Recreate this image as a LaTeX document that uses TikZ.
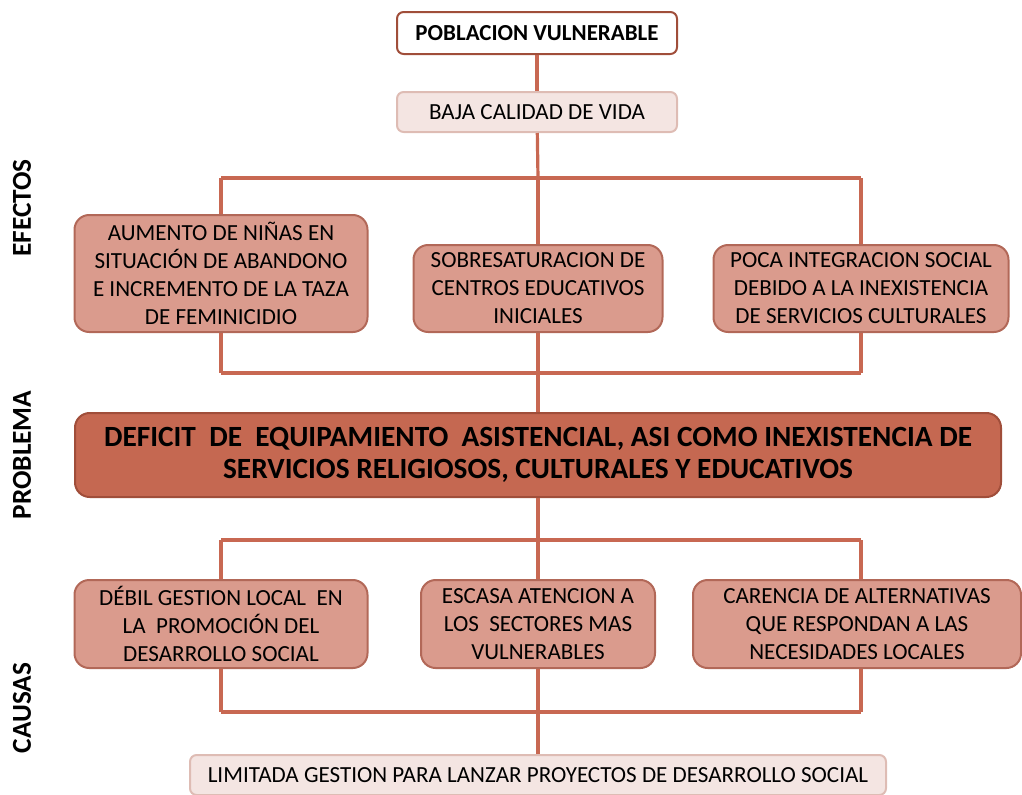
\documentclass[tikz,border=0pt]{standalone}
\usepackage{fontspec}
\setmainfont{Carlito}
\usetikzlibrary{positioning, calc}
\definecolor{colLine}{RGB}{200,104,82}
\definecolor{colDark}{RGB}{160,78,58}
\definecolor{colEffect}{RGB}{218,155,141}
\definecolor{colEffectBorder}{RGB}{178,104,88}
\definecolor{colProblem}{RGB}{197,104,81}
\definecolor{colSoft}{RGB}{244,229,226}
\definecolor{colSoftBorder}{RGB}{222,188,180}
\tikzset{
  box/.style={
    rectangle, rounded corners=11pt,
    line width=1.5pt, inner sep=0pt,
    align=center, text=black
  },
  effBox/.style={box, draw=colEffectBorder, fill=colEffect,
    font=\fontsize{17.3}{21}\selectfont},
  probBox/.style={box, draw=colDark, fill=colProblem,
    font=\bfseries\fontsize{22}{24}\selectfont},
  softBox/.style={box, rounded corners=5pt, draw=colSoftBorder, fill=colSoft,
    font=\fontsize{17.3}{21}\selectfont},
  headBox/.style={box, rounded corners=5pt, draw=colDark, fill=white,
    font=\bfseries\fontsize{17.2}{21}\selectfont},
  link/.style={draw=colLine, line width=2.4pt},
  side/.style={rotate=90, font=\bfseries\fontsize{20.5}{22}\selectfont}
}

\begin{document}
\begin{tikzpicture}[x=0.75pt, y=-0.75pt]
  \useasboundingbox (0,0) rectangle (1022,794);

  % bars
  \coordinate (effTopL) at (221,178);
  \coordinate (effTopM) at (538,178);
  \coordinate (effTopR) at (861,178);
  \coordinate (effBotL) at (221,373);
  \coordinate (effBotM) at (538,373);
  \coordinate (effBotR) at (861,373);
  \coordinate (cauTopL) at (221,540);
  \coordinate (cauTopM) at (538,540);
  \coordinate (cauTopR) at (861,540);
  \coordinate (cauBotL) at (221,712);
  \coordinate (cauBotM) at (538,712);
  \coordinate (cauBotR) at (861,712);

  % side labels
  \node[side] (lblEfectos) at (22,208) {EFECTOS};
  \node[side] (lblProblema) at (22,455) {PROBLEMA};
  \node[side] (lblCausas) at (22,708) {CAUSAS};

  % links first, boxes on top
  \draw[link] (effTopL) -- (effTopR);
  \draw[link] (effBotL) -- (effBotR);
  \draw[link] (cauTopL) -- (cauTopR);
  \draw[link] (cauBotL) -- (cauBotR);

  \node[headBox, minimum width=210pt, minimum height=31.5pt] (poblacion) at (537,33) {POBLACION VULNERABLE};
  \node[softBox, minimum width=210pt, minimum height=30pt] (calidad) at (537,112) {BAJA CALIDAD DE VIDA};

  \node[effBox, minimum width=219.75pt, minimum height=87.75pt] (eff1) at (221,273.5)
    {AUMENTO DE NIÑAS EN\\SITUACIÓN DE ABANDONO\\E INCREMENTO DE LA TAZA\\DE FEMINICIDIO};
  \node[effBox, minimum width=186.75pt, minimum height=65.25pt] (eff2) at (538,288.5)
    {SOBRESATURACION DE\\CENTROS EDUCATIVOS\\INICIALES};
  \node[effBox, minimum width=221.25pt, minimum height=65.25pt] (eff3) at (861,288.5)
    {POCA INTEGRACION SOCIAL\\DEBIDO A LA INEXISTENCIA\\DE SERVICIOS CULTURALES};

  \node[probBox, minimum width=694.5pt, minimum height=63pt] (problema) at (538,455)
    {DEFICIT\ \ DE\ \ EQUIPAMIENTO\ \ ASISTENCIAL, ASI COMO INEXISTENCIA DE\\SERVICIOS RELIGIOSOS, CULTURALES Y EDUCATIVOS};

  \node[effBox, minimum width=219.75pt, minimum height=66pt] (cau1) at (221,624)
    {DÉBIL GESTION LOCAL\ \ EN\\LA\ \ PROMOCIÓN DEL\\DESARROLLO SOCIAL};
  \node[effBox, minimum width=175.5pt, minimum height=66pt] (cau2) at (538,624)
    {ESCASA ATENCION A\\LOS\ \ SECTORES MAS\\VULNERABLES};
  \node[effBox, minimum width=246pt, minimum height=66pt] (cau3) at (857,624)
    {CARENCIA DE ALTERNATIVAS\\QUE RESPONDAN A LAS\\NECESIDADES LOCALES};

  \node[softBox, minimum width=522pt, minimum height=30pt] (gestion) at (538,775)
    {LIMITADA GESTION PARA LANZAR PROYECTOS DE DESARROLLO SOCIAL};

  % top -> effects
  \draw[link] (poblacion) -- (calidad);
  \draw[link] (calidad) -- (effTopM);
  \draw[link] (effTopL) -- (eff1);
  \draw[link] (effTopM) -- (eff2);
  \draw[link] (effTopR) -- (eff3);

  % effects -> problem
  \draw[link] (eff1) -- (effBotL);
  \draw[link] (eff2) -- (effBotM);
  \draw[link] (eff3) -- (effBotR);
  \draw[link] (effBotM) -- (problema);

  % problem -> causes
  \draw[link] (problema) -- (cauTopM);
  \draw[link] (cauTopL) -- (cau1);
  \draw[link] (cauTopM) -- (cau2);
  \draw[link] (cauTopR) -- (cauTopR |- cau3.north);

  % causes -> root
  \draw[link] (cau1) -- (cauBotL);
  \draw[link] (cau2) -- (cauBotM);
  \draw[link] (cauTopR |- cau3.south) -- (cauBotR);
  \draw[link] (cauBotM) -- (gestion);

\end{tikzpicture}
\end{document}
